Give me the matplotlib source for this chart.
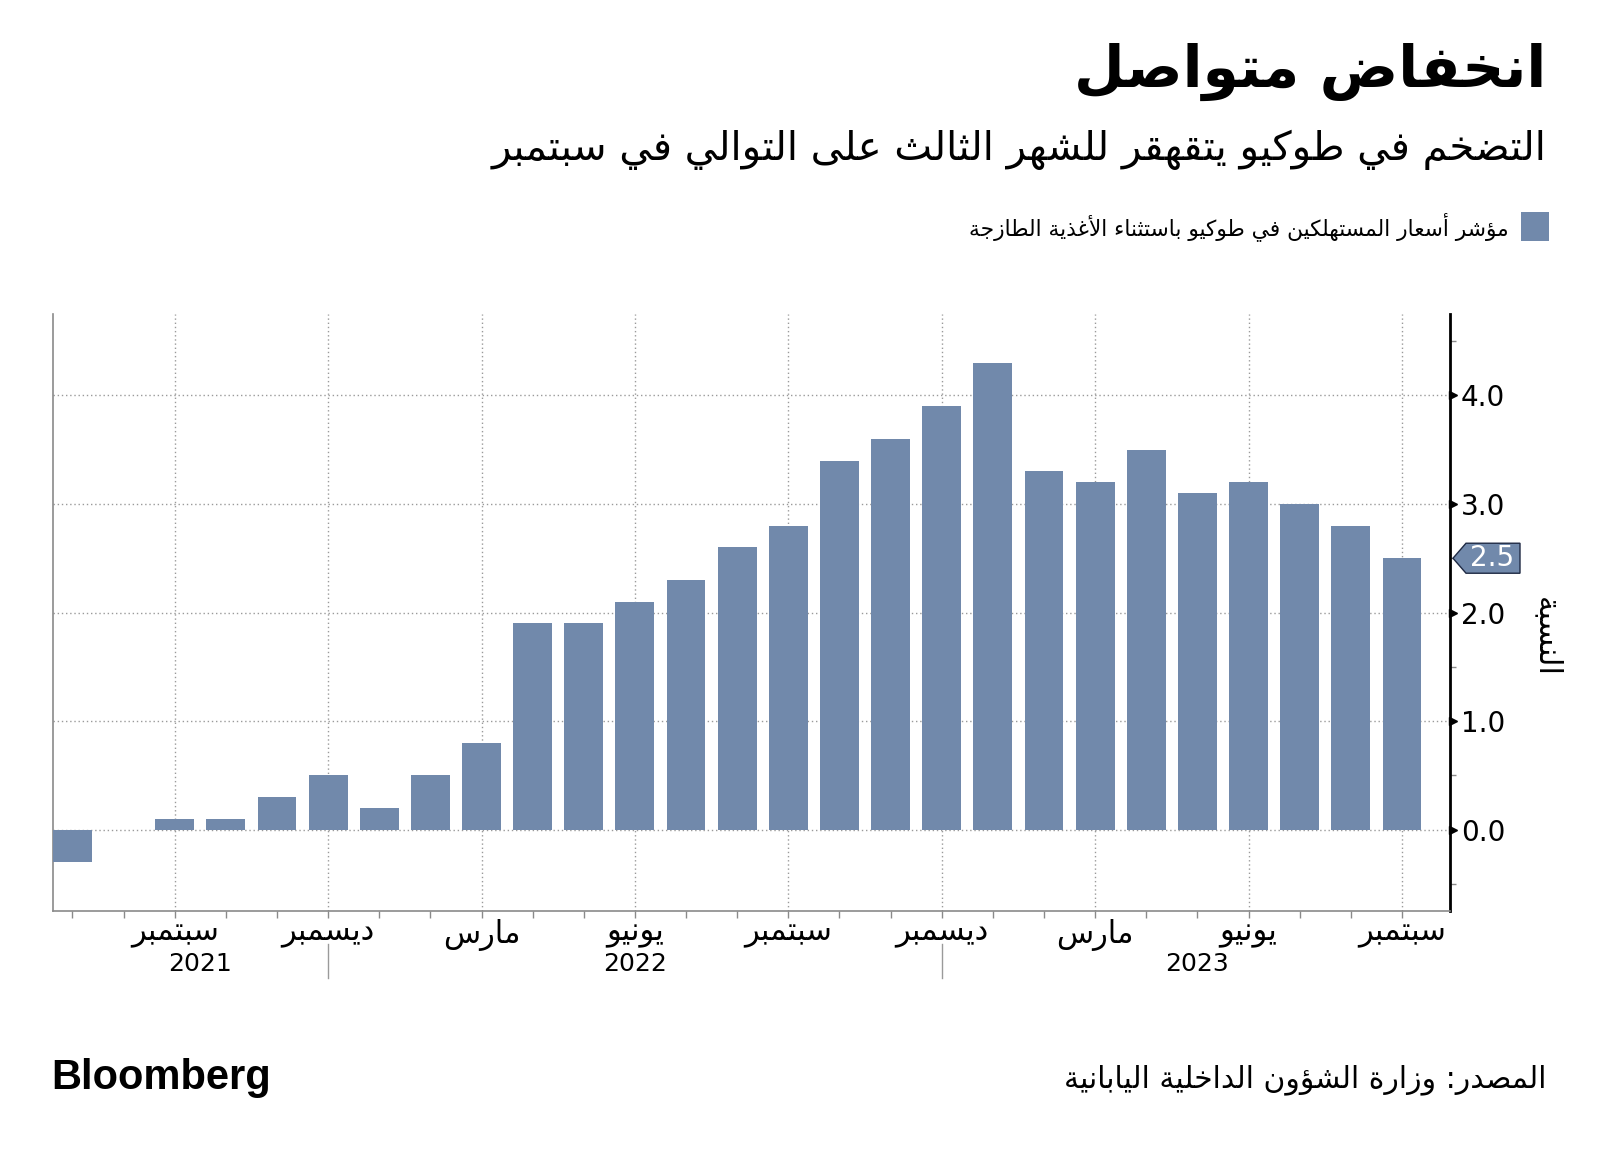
import numpy as np
import pandas as pd
import matplotlib
matplotlib.use("Agg")
import matplotlib.pyplot as plt
from matplotlib.patches import Polygon, Rectangle
from matplotlib.transforms import blended_transform_factory, ScaledTranslation

plt.rcParams['font.family'] = ['DejaVu Sans']

# --- data ---
months = pd.period_range("2021-07", "2023-09", freq="M")
cpi = [-0.3, 0.0, 0.1, 0.1, 0.3, 0.5, 0.2, 0.5, 0.8, 1.9, 1.9, 2.1, 2.3, 2.6,
       2.8, 3.4, 3.6, 3.9, 4.3, 3.3, 3.2, 3.5, 3.1, 3.2, 3.0, 2.8, 2.5]
month_names = {9: "سبتمبر", 12: "ديسمبر", 3: "مارس", 6: "يونيو"}
years = ["2021", "2022", "2023"]
y_ticks = [0, 1, 2, 3, 4]

title = "انخفاض متواصل"
subtitle = "التضخم في طوكيو يتقهقر للشهر الثالث على التوالي في سبتمبر"
legend_label = "مؤشر أسعار المستهلكين في طوكيو باستثناء الأغذية الطازجة"
y_label = "النسبة"
source = "المصدر: وزارة الشؤون الداخلية اليابانية"

BAR = "#7189ab"
GRID = "#9a9a9a"

# matplotlib has no arabic shaping, so pick presentation forms by hand
DUAL = {'ئ': 0xFE89, 'ب': 0xFE8F, 'ت': 0xFE95, 'ث': 0xFE99, 'ج': 0xFE9D, 'ح': 0xFEA1,
        'خ': 0xFEA5, 'س': 0xFEB1, 'ش': 0xFEB5, 'ص': 0xFEB9, 'ض': 0xFEBD, 'ط': 0xFEC1,
        'ظ': 0xFEC5, 'ع': 0xFEC9, 'غ': 0xFECD, 'ف': 0xFED1, 'ق': 0xFED5, 'ك': 0xFED9,
        'ل': 0xFEDD, 'م': 0xFEE1, 'ن': 0xFEE5, 'ه': 0xFEE9, 'ي': 0xFEF1}
RIGHT = {'آ': 0xFE81, 'أ': 0xFE83, 'ؤ': 0xFE85, 'إ': 0xFE87, 'ا': 0xFE8D, 'ة': 0xFE93,
         'د': 0xFEA9, 'ذ': 0xFEAB, 'ر': 0xFEAD, 'ز': 0xFEAF, 'و': 0xFEED, 'ى': 0xFEEF}
LONE = {'ء': 0xFE80}
LAM_ALEF = {'آ': 0xFEF5, 'أ': 0xFEF7, 'إ': 0xFEF9, 'ا': 0xFEFB}


def shape(text):
    toks = []
    i = 0
    while i < len(text):
        c = text[i]
        if c == 'ل' and i + 1 < len(text) and text[i + 1] in LAM_ALEF:
            toks.append(('LA', LAM_ALEF[text[i + 1]]))
            i += 2
        else:
            toks.append(('C', c))
            i += 1

    def to_next(t):
        return t[0] == 'C' and t[1] in DUAL

    def to_prev(t):
        return t[0] == 'LA' or t[1] in DUAL or t[1] in RIGHT

    out = []
    for k, t in enumerate(toks):
        p = k > 0 and to_next(toks[k - 1]) and to_prev(t)
        n = k + 1 < len(toks) and to_next(t) and to_prev(toks[k + 1])
        kind, v = t
        if kind == 'LA':
            out.append(chr(v + (1 if p else 0)))
        elif v in DUAL:
            out.append(chr(DUAL[v] + (3 if p and n else 2 if n else 1 if p else 0)))
        elif v in RIGHT:
            out.append(chr(RIGHT[v] + (1 if p else 0)))
        elif v in LONE:
            out.append(chr(LONE[v]))
        else:
            out.append(v)
    return ''.join(reversed(out))


W, H = 1600, 1155
fig = plt.figure(figsize=(W / 100, H / 100), dpi=100)


def fx(px):
    return px / W


def fy(py):
    return 1 - py / H


ax = fig.add_axes([fx(53), fy(911), fx(1450 - 53), (911 - 314) / H])

x = np.arange(len(cpi))
ax.bar(x, cpi, width=0.76, color=BAR, zorder=3)
ax.set_xlim(-0.38, len(cpi) - 0.06)
ax.set_ylim(-0.75, 4.75)

ax.spines["top"].set_visible(False)
ax.spines["left"].set_color("#8a8a8a")
ax.spines["left"].set_linewidth(1.2)
ax.spines["bottom"].set_color("#8a8a8a")
ax.spines["bottom"].set_linewidth(1.2)
ax.spines["right"].set_color("black")
ax.spines["right"].set_linewidth(2)

# y axis on the right
ax.yaxis.tick_right()
ax.set_yticks(y_ticks)
ax.set_yticklabels([f"{v:.1f}" for v in y_ticks], fontsize=20)
ax.set_yticks(np.array(y_ticks[:-1] + [y_ticks[-1] + 1]) - 0.5, minor=True)
ax.tick_params(axis="y", which="major", length=0, pad=8)
ax.tick_params(axis="y", which="minor", length=4, width=1, color="#8a8a8a", direction="out")
tri = blended_transform_factory(ax.transAxes, ax.transData) + ScaledTranslation(3 / 100, 0, fig.dpi_scale_trans)
ax.plot([1] * len(y_ticks), y_ticks, ls="none", marker=">", ms=6, color="black",
        transform=tri, clip_on=False, zorder=5)

# x axis: month ticks
major = [i for i, m in enumerate(months) if m.month in month_names]
ax.set_xticks(major)
ax.set_xticklabels([shape(month_names[months[i].month]) for i in major], fontsize=22)
ax.set_xticks(x, minor=True)
ax.tick_params(axis="x", which="both", length=5, width=1, color="#8a8a8a", direction="out", pad=1)

ax.set_axisbelow(True)
ax.grid(which="major", ls=(0, (1, 2)), color=GRID, lw=1)

# year labels and separators
bt = blended_transform_factory(ax.transData, ax.transAxes)
for i, m in enumerate(months):
    if m.month == 12:
        ax.plot([i, i], [-0.055, -0.112], color="#9a9a9a", lw=1, transform=bt, clip_on=False)
for yr, xpos in zip(years, [2.5, 11, 22]):
    ax.text(xpos, -0.088, yr, transform=bt, ha="center", va="center", fontsize=18)

# latest value tag
fig.canvas.draw()
tip = fig.transFigure.inverted().transform(ax.transData.transform((len(cpi) - 1, cpi[-1])))
ty = tip[1] * H
pts = [(1453, ty), (1466, ty + 15), (1520, ty + 15), (1520, ty - 15), (1466, ty - 15)]
fig.add_artist(Polygon([(px / W, py / H) for px, py in pts], closed=True,
                       facecolor=BAR, edgecolor="#1f2a44", lw=1, transform=fig.transFigure))
fig.text(1492 / W, ty / H, f"{cpi[-1]:.1f}", color="white", fontsize=20, ha="center", va="center")

# y label
fig.text(fx(1546), fy(637), shape(y_label), rotation=270, ha="center", va="center", fontsize=22)

# titles
fig.text(fx(1546), fy(72), shape(title), ha="right", va="center", fontsize=42, fontweight="bold")
fig.text(fx(1546), fy(150), shape(subtitle), ha="right", va="center", fontsize=29)

# legend
fig.add_artist(Rectangle((fx(1521), fy(241)), 28 / W, 29 / H, facecolor=BAR, transform=fig.transFigure))
fig.text(fx(1509), fy(227), shape(legend_label), ha="right", va="center", fontsize=15.7)

# footer
fig.text(fx(51), fy(1078), "Bloomberg", ha="left", va="center", fontsize=30,
         fontweight="bold", family="Liberation Sans")
fig.text(fx(1546), fy(1080), shape(source), ha="right", va="center", fontsize=21.4)

fig.savefig("out.png", dpi=100)
